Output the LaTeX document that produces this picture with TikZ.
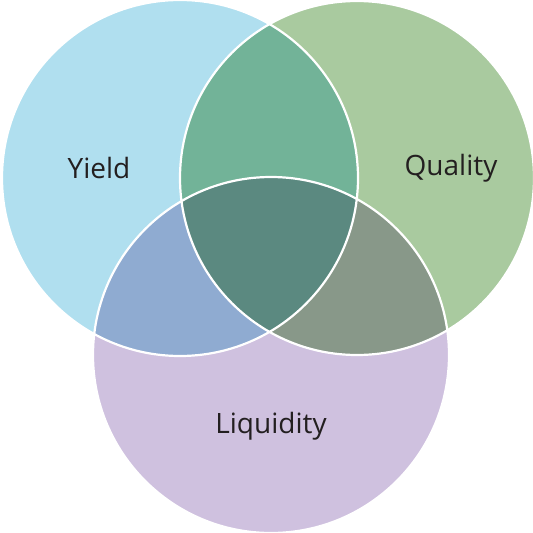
\documentclass[tikz,border=0pt]{standalone}
\usepackage{fontspec}
\setmainfont{Open Sans}

\definecolor{yieldblue}{HTML}{B0DFEF}
\definecolor{qualgreen}{HTML}{A9CA9F}
\definecolor{liqpurple}{HTML}{CFC1DF}
\definecolor{yqmix}{HTML}{72B398}
\definecolor{ylmix}{HTML}{8FABD1}
\definecolor{qlmix}{HTML}{889889}
\definecolor{allmix}{HTML}{5B8980}
\definecolor{labeltext}{HTML}{231F20}

\tikzset{
  setlabel/.style={font=\fontsize{28}{28}\selectfont, text=labeltext},
  rim/.style={draw=white, line width=2.2pt}
}

\begin{document}
\begin{tikzpicture}[x=1pt, y=-1pt]
  \useasboundingbox (0,0) rectangle (533,533);

  % 1. The three set centres
  \coordinate (Y) at (180,178);
  \coordinate (Q) at (357,178);
  \coordinate (L) at (271,355);

  % --- STEP 1: THE PLAIN CIRCLES ---
  \fill[yieldblue] (Y) circle (178);
  \fill[qualgreen] (Q) circle (177);
  \fill[liqpurple] (L) circle (178);

  % --- STEP 2: THE PAIRWISE OVERLAPS ---
  \begin{scope}
    \clip (Y) circle (178);
    \fill[yqmix] (Q) circle (177);
  \end{scope}
  \begin{scope}
    \clip (Y) circle (178);
    \fill[ylmix] (L) circle (178);
  \end{scope}
  \begin{scope}
    \clip (Q) circle (177);
    \fill[qlmix] (L) circle (178);
  \end{scope}

  % --- STEP 3: THE MIDDLE ---
  \begin{scope}
    \clip (Y) circle (178);
    \clip (Q) circle (177);
    \fill[allmix] (L) circle (178);
  \end{scope}

  % White rims on top
  \draw[rim] (Y) circle (178);
  \draw[rim] (Q) circle (177);
  \draw[rim] (L) circle (178);

  % Labels
  \node[setlabel] (yield) at (99,168) {Yield};
  \node[setlabel] (quality) at (451,168) {Quality};
  \node[setlabel] (liquidity) at (271,426) {Liquidity};
\end{tikzpicture}
\end{document}
